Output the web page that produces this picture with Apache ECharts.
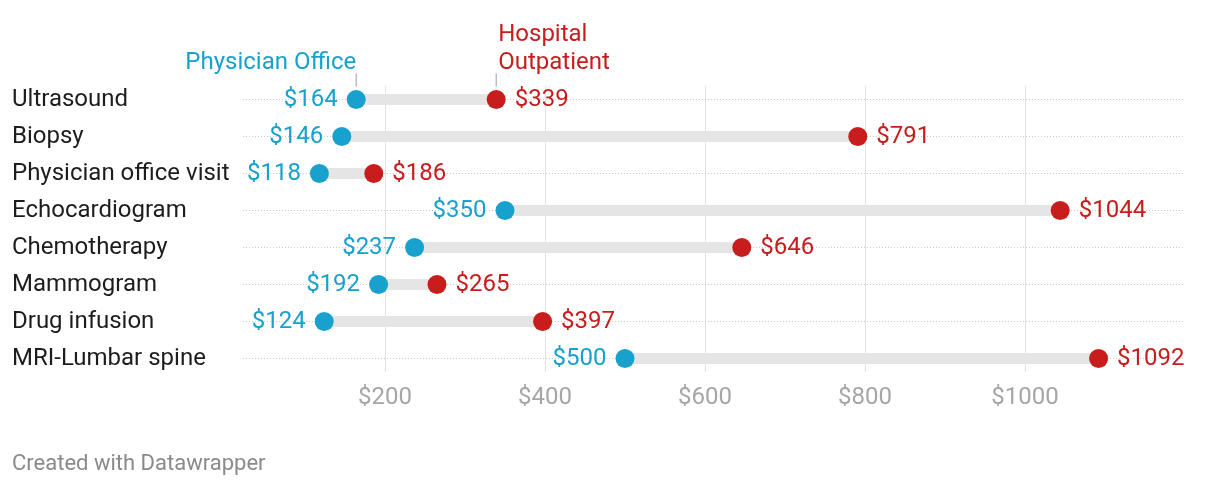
<!DOCTYPE html>
<html>
<head>
<meta charset="utf-8">
<script src="https://cdn.jsdelivr.net/npm/echarts@6/dist/echarts.min.js"></script>
<style>
html,body{margin:0;padding:0;background:#fff;}
#chart{width:1220px;height:486px;}
</style>
</head>
<body>
<div id="chart"></div>
<script>
const categories = ['Ultrasound','Biopsy','Physician office visit','Echocardiogram','Chemotherapy','Mammogram','Drug infusion','MRI-Lumbar spine'];
const physicianOffice = [164,146,118,350,237,192,124,500];
const hospitalOutpatient = [339,791,186,1044,646,265,397,1092];
const xTicks = [200,400,600,800,1000];
const seriesNames = ['Physician Office','Hospital\nOutpatient'];

const BLUE = '#18a1cd', RED = '#c71e1d';
const FONT = 'Roboto';

const chart = echarts.init(document.getElementById('chart'));
chart.setOption({
  animation:false,
  textStyle:{fontFamily:FONT},
  title:{text:'Created with Datawrapper',left:7,top:448,textStyle:{fontSize:22,fontWeight:'normal',color:'#8a8a8a',fontFamily:FONT}},
  grid:[
    {left:225,right:35,top:81,height:296},
    {left:225,right:35,top:86,height:286}
  ],
  xAxis:[
    {gridIndex:0,type:'value',min:0,max:1200,show:false},
    {gridIndex:1,type:'value',min:0,max:1200,interval:200,
     axisLine:{show:false},axisTick:{show:false},
     splitLine:{show:true,showMinLine:false,showMaxLine:false,lineStyle:{color:'#e3e3e3',width:1}},
     axisLabel:{margin:14,fontSize:24,color:'#a6a6a6',fontFamily:FONT,
       formatter:v=>xTicks.includes(v)?'$'+v:''}}
  ],
  yAxis:[
    {gridIndex:0,type:'category',data:categories,inverse:true,
     axisLine:{show:false},axisTick:{show:false},splitLine:{show:false},
     axisLabel:{align:'left',margin:213,fontSize:24,color:'#1d1d1d',fontFamily:FONT,padding:[3,0,0,0]}},
    {gridIndex:1,type:'value',show:false,min:0,max:1}
  ],
  series:[
    {
      type:'custom',xAxisIndex:0,yAxisIndex:0,z:1,silent:true,
      data:categories.map((c,i)=>[i,physicianOffice[i],hospitalOutpatient[i]]),
      encode:{y:0,x:[1,2]},
      renderItem:(params,api)=>{
        const i=api.value(0);
        const p1=api.coord([api.value(1),i]);
        const p2=api.coord([api.value(2),i]);
        const cs=params.coordSys;
        const y=p1[1];
        const children=[
          {type:'line',shape:{x1:cs.x+18,y1:y,x2:cs.x+cs.width,y2:y},
           style:{stroke:'#c9c9c9',lineWidth:1,lineDash:[1,2]}},
          {type:'rect',shape:{x:Math.min(p1[0],p2[0]),y:y-5.5,width:Math.abs(p2[0]-p1[0]),height:11},
           style:{fill:'#e5e5e5'}}
        ];
        if(i===0){
          children.push(
            {type:'line',shape:{x1:p1[0],y1:y-26,x2:p1[0],y2:y-13},style:{stroke:'#999',lineWidth:1}},
            {type:'line',shape:{x1:p2[0],y1:y-26,x2:p2[0],y2:y-13},style:{stroke:'#999',lineWidth:1}},
            {type:'text',x:p1[0],y:y-37,style:{text:seriesNames[0],align:'right',verticalAlign:'middle',fill:BLUE,fontSize:24,fontFamily:FONT}},
            {type:'text',x:p2[0]+2,y:y-23,style:{text:seriesNames[1],align:'left',verticalAlign:'bottom',lineHeight:28,fill:RED,fontSize:24,fontFamily:FONT}}
          );
        }
        return {type:'group',children};
      }
    },
    {
      type:'scatter',name:'Physician Office',xAxisIndex:0,yAxisIndex:0,z:3,
      symbolSize:19,itemStyle:{color:BLUE,opacity:1},
      data:physicianOffice.map((v,i)=>[v,i]),
      label:{show:true,position:'left',distance:9,fontSize:24,color:BLUE,fontFamily:FONT,padding:[3,0,0,0],formatter:p=>'$'+p.value[0]}
    },
    {
      type:'scatter',name:'Hospital Outpatient',xAxisIndex:0,yAxisIndex:0,z:3,
      symbolSize:19,itemStyle:{color:RED,opacity:1},
      data:hospitalOutpatient.map((v,i)=>[v,i]),
      label:{show:true,position:'right',distance:9,fontSize:24,color:RED,fontFamily:FONT,padding:[3,0,0,0],formatter:p=>'$'+p.value[0]}
    }
  ]
});
</script>
</body>
</html>
